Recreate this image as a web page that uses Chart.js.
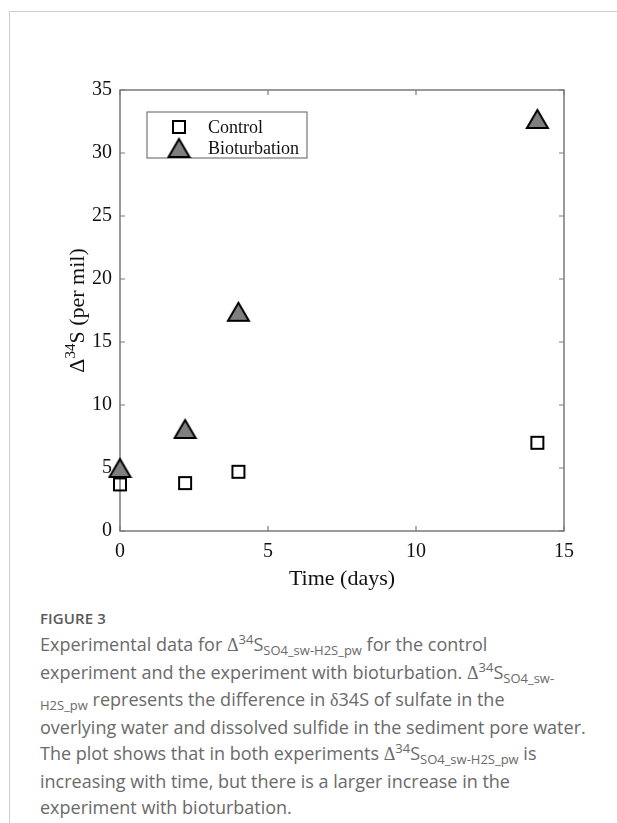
<!DOCTYPE html>
<html>
<head>
<meta charset="utf-8">
<script src="https://cdn.jsdelivr.net/npm/chart.js@4.4.1/dist/chart.umd.min.js"></script>
<style>
html,body{margin:0;padding:0;background:#fff;}
body{width:617px;height:823px;position:relative;overflow:hidden;}
#card{position:absolute;left:9px;top:11px;width:700px;height:900px;border-left:1px solid #cdcdcd;border-top:1px solid #cdcdcd;}
#wrap{position:absolute;left:0;top:0;width:617px;height:600px;}
#cap{position:absolute;left:40px;top:606px;font-family:"Open Sans",sans-serif;color:#6a6a6a;font-size:18px;line-height:25.8px;white-space:nowrap;}
#cap .fig{font-size:15px;font-weight:600;color:#5a5a5a;letter-spacing:0.1px;}
#cap .g{font-family:"Liberation Serif",serif;}
#cap sup{font-size:13px;vertical-align:0;position:relative;top:-7px;}
#cap sub{font-size:13px;vertical-align:0;position:relative;top:4px;}
</style>
</head>
<body>
<div id="card"></div>
<div id="wrap"><canvas id="c" width="617" height="600"></canvas></div>
<div id="cap">
<div class="fig">FIGURE 3</div>
Experimental data for <span class="g">Δ</span><sup>34</sup>S<sub>SO4_sw-H2S_pw</sub> for the control<br>
experiment and the experiment with bioturbation. <span class="g">Δ</span><sup>34</sup>S<sub>SO4_sw-</sub><br>
<sub>H2S_pw</sub> represents the difference in <span class="g">δ</span>34S of sulfate in the<br>
overlying water and dissolved sulfide in the sediment pore water.<br>
The plot shows that in both experiments <span class="g">Δ</span><sup>34</sup>S<sub>SO4_sw-H2S_pw</sub> is<br>
increasing with time, but there is a larger increase in the<br>
experiment with bioturbation.
</div>
<script>
// ---- data ----
const timeDays = [0, 2.2, 4, 14.1];
const controlValues = [3.7, 3.8, 4.7, 7.0];
const bioturbationValues = [5.0, 8.1, 17.4, 32.7];
const seriesLabels = ['Control', 'Bioturbation'];
const xTickValues = [0, 5, 10, 15];
const yTickValues = [0, 5, 10, 15, 20, 25, 30, 35];
const xAxisTitle = 'Time (days)';
const yAxisTitleParts = ['Δ', '34', 'S (per mil)'];

const SERIF = '"Liberation Serif", "Times New Roman", serif';

// marker images
function squareMarker() {
  const c = document.createElement('canvas');
  c.width = 16; c.height = 16;
  const g = c.getContext('2d');
  g.lineWidth = 2; g.strokeStyle = '#000';
  g.strokeRect(2, 2, 12, 12);
  return c;
}
function triangleMarker() {
  const c = document.createElement('canvas');
  c.width = 25; c.height = 22;
  const g = c.getContext('2d');
  g.beginPath();
  g.moveTo(12.5, 2); g.lineTo(2, 20); g.lineTo(23, 20); g.closePath();
  g.fillStyle = '#7f7f7f'; g.fill();
  g.lineWidth = 2; g.strokeStyle = '#000'; g.lineJoin = 'miter'; g.stroke();
  return c;
}
const markers = [squareMarker(), triangleMarker()];

const toPoints = (xs, ys) => xs.map((x, i) => ({x: x, y: ys[i]}));

const boxPlugin = {
  id: 'matlabBox',
  beforeDatasetsDraw(chart) {
    const {ctx, chartArea: a, scales} = chart;
    ctx.save();
    ctx.strokeStyle = '#7a7a7a';
    ctx.lineWidth = 1.5;
    ctx.strokeRect(a.left, a.top, a.right - a.left, a.bottom - a.top);
    ctx.lineWidth = 1.2;
    ctx.beginPath();
    const tl = 5;
    scales.x.ticks.forEach(t => {
      const px = scales.x.getPixelForValue(t.value);
      ctx.moveTo(px, a.bottom); ctx.lineTo(px, a.bottom - tl);
      ctx.moveTo(px, a.top); ctx.lineTo(px, a.top + tl);
    });
    scales.y.ticks.forEach(t => {
      const py = scales.y.getPixelForValue(t.value);
      ctx.moveTo(a.left, py); ctx.lineTo(a.left + tl, py);
      ctx.moveTo(a.right, py); ctx.lineTo(a.right - tl, py);
    });
    ctx.stroke();
    ctx.restore();
  },
  afterDraw(chart) {
    const {ctx, chartArea: a} = chart;
    // y axis title with superscript
    ctx.save();
    ctx.fillStyle = '#111';
    const big = '22px ' + SERIF, small = '15px ' + SERIF;
    ctx.font = big; const w0 = ctx.measureText(yAxisTitleParts[0]).width;
    const w2 = ctx.measureText(yAxisTitleParts[2]).width;
    ctx.font = small; const w1 = ctx.measureText(yAxisTitleParts[1]).width;
    const total = w0 + w1 + w2;
    ctx.translate(77, (a.top + a.bottom) / 2);
    ctx.rotate(-Math.PI / 2);
    ctx.textBaseline = 'alphabetic';
    ctx.textAlign = 'left';
    let x = -total / 2;
    ctx.font = big; ctx.fillText(yAxisTitleParts[0], x, 7); x += w0;
    ctx.font = small; ctx.fillText(yAxisTitleParts[1], x, -2); x += w1;
    ctx.font = big; ctx.fillText(yAxisTitleParts[2], x, 7);
    ctx.restore();

    // legend box
    ctx.save();
    const lx = a.left + 27, ly = a.top + 22, lw = 160, lh = 46;
    ctx.fillStyle = '#fff';
    ctx.fillRect(lx, ly, lw, lh);
    ctx.strokeStyle = '#777'; ctx.lineWidth = 1.2;
    ctx.strokeRect(lx, ly, lw, lh);
    ctx.font = '18px ' + SERIF;
    ctx.fillStyle = '#111';
    ctx.textBaseline = 'middle';
    chart.data.datasets.forEach((ds, i) => {
      const cy = ly + 15 + i * 21;
      const img = ds.pointStyle;
      ctx.drawImage(img, lx + 32 - img.width / 2, cy - img.height / 2);
      ctx.fillText(ds.label, lx + 61, cy + 1);
    });
    ctx.restore();
  }
};

new Chart(document.getElementById('c'), {
  type: 'scatter',
  data: {
    datasets: [
      { label: seriesLabels[0], data: toPoints(timeDays, controlValues), pointStyle: markers[0], pointRadius: 7, showLine: false, clip: false },
      { label: seriesLabels[1], data: toPoints(timeDays, bioturbationValues), pointStyle: markers[1], pointRadius: 10, showLine: false, clip: false }
    ]
  },
  options: {
    responsive: false,
    animation: false,
    events: [],
    layout: { padding: { left: 0, top: 90, right: 53, bottom: 8 } },
    plugins: { legend: { display: false }, tooltip: { enabled: false } },
    scales: {
      x: {
        type: 'linear', min: 0, max: 15,
        afterBuildTicks: s => { s.ticks = xTickValues.map(v => ({value: v})); },
        afterFit: s => { s.height = 61; },
        grid: { display: false, drawTicks: false, tickLength: 0 },
        border: { display: false },
        ticks: { font: { family: SERIF, size: 20 }, color: '#111', padding: 9, maxRotation: 0 },
        title: { display: true, text: xAxisTitle, font: { family: SERIF, size: 22 }, color: '#111', padding: { top: 0, bottom: 0 } }
      },
      y: {
        type: 'linear', min: 0, max: 35,
        afterBuildTicks: s => { s.ticks = yTickValues.map(v => ({value: v})); },
        afterFit: s => { s.width = 120; },
        grid: { display: false, drawTicks: false, tickLength: 0 },
        border: { display: false },
        ticks: { font: { family: SERIF, size: 20 }, color: '#111', padding: 8 }
      }
    }
  },
  plugins: [boxPlugin]
});
</script>
</body>
</html>
